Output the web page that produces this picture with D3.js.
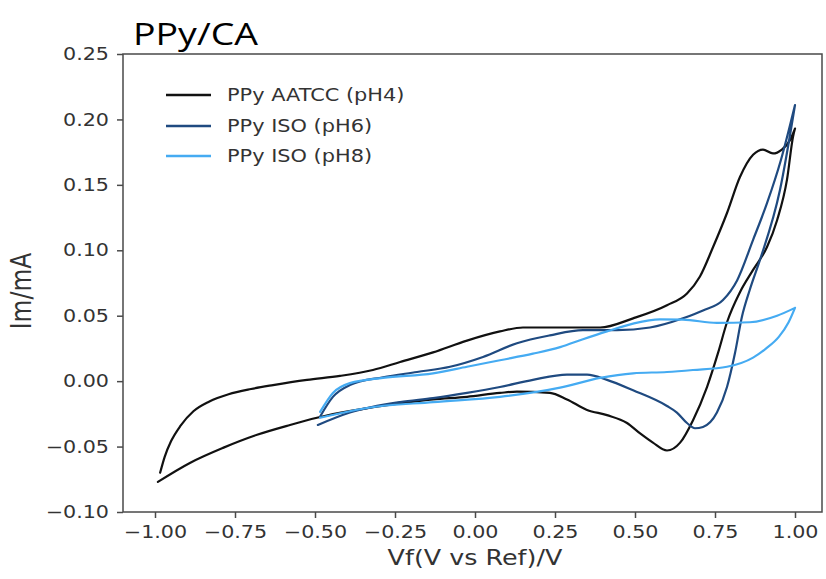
<!DOCTYPE html>
<html>
<head>
<meta charset="utf-8">
<script src="https://cdn.jsdelivr.net/npm/d3@7"></script>
<style>
  body { margin: 0; background: #fff; }
  svg { display: block; }
</style>
</head>
<body>
<svg id="chart" width="826" height="579"></svg>
<script>
// Axis ticks
const xTicks = [-1.00, -0.75, -0.50, -0.25, 0.00, 0.25, 0.50, 0.75, 1.00];
const yTicks = [-0.10, -0.05, 0.00, 0.05, 0.10, 0.15, 0.20, 0.25];

const chartTitle = "PPy/CA";
const xLabel = "Vf(V vs Ref)/V";
const yLabel = "Im/mA";
const seriesNames = ["PPy AATCC (pH4)", "PPy ISO (pH6)", "PPy ISO (pH8)"];

// Cyclic voltammograms, [potential V, current mA]; forward (anodic) then reverse sweep
const ph4Forward = [
  [-0.984, -0.070], [-0.970, -0.058], [-0.950, -0.046], [-0.920, -0.034], [-0.880, -0.023],
  [-0.830, -0.0155], [-0.770, -0.010], [-0.700, -0.006], [-0.631, -0.003], [-0.525, 0.001],
  [-0.422, 0.004], [-0.319, 0.0085], [-0.234, 0.0146], [-0.131, 0.022], [-0.025, 0.031],
  [0.078, 0.038], [0.150, 0.041], [0.234, 0.041], [0.391, 0.041], [0.494, 0.048],
  [0.600, 0.058], [0.6625, 0.067], [0.703, 0.080], [0.744, 0.1025], [0.7875, 0.1285],
  [0.828, 0.156], [0.869, 0.173], [0.900, 0.177], [0.931, 0.174], [0.959, 0.177],
  [0.984, 0.184], [1.000, 0.193]
];
const ph4Reverse = [
  [1.000, 0.193], [0.994, 0.187], [0.975, 0.154], [0.944, 0.123], [0.9125, 0.1025],
  [0.869, 0.085], [0.828, 0.068], [0.7875, 0.045], [0.760, 0.022], [0.725, -0.0045],
  [0.681, -0.030], [0.641, -0.047], [0.600, -0.053], [0.556, -0.047], [0.516, -0.040],
  [0.475, -0.032], [0.4125, -0.026], [0.350, -0.022], [0.2875, -0.014], [0.234, -0.009],
  [0.131, -0.008], [0.078, -0.009], [-0.025, -0.012], [-0.131, -0.014], [-0.234, -0.017],
  [-0.494, -0.028], [-0.578, -0.0335], [-0.681, -0.041], [-0.7875, -0.051], [-0.891, -0.0625],
  [-0.991, -0.077]
];
const ph6Forward = [
  [-0.484, -0.027], [-0.444, -0.012], [-0.391, -0.003], [-0.2875, 0.003], [-0.181, 0.007],
  [-0.078, 0.011], [0.025, 0.0185], [0.131, 0.029], [0.234, 0.035], [0.3375, 0.039],
  [0.444, 0.039], [0.547, 0.041], [0.650, 0.048], [0.7125, 0.054], [0.775, 0.062],
  [0.819, 0.077], [0.869, 0.108], [0.9125, 0.136], [0.956, 0.169], [1.000, 0.211]
];
const ph6Reverse = [
  [1.000, 0.211], [0.953, 0.146], [0.891, 0.093], [0.859, 0.070], [0.834, 0.049],
  [0.8125, 0.0215], [0.7875, -0.0045], [0.756, -0.024], [0.7125, -0.035], [0.6875, -0.036],
  [0.6625, -0.032], [0.631, -0.024], [0.600, -0.019], [0.494, -0.007], [0.4125, 0.001],
  [0.350, 0.005], [0.2875, 0.005], [0.181, 0.001], [0.078, -0.0045], [-0.025, -0.009],
  [-0.131, -0.013], [-0.234, -0.016], [-0.391, -0.024], [-0.491, -0.0335]
];
const ph8Forward = [
  [-0.484, -0.0235], [-0.444, -0.009], [-0.391, -0.0015], [-0.2875, 0.0025], [-0.131, 0.006],
  [-0.025, 0.011], [0.078, 0.016], [0.181, 0.021], [0.266, 0.026], [0.3375, 0.032],
  [0.4125, 0.038], [0.494, 0.0440], [0.578, 0.0472], [0.650, 0.047], [0.756, 0.0445],
  [0.859, 0.045], [0.944, 0.050], [1.000, 0.056]
];
const ph8Reverse = [
  [1.000, 0.056], [0.980, 0.045], [0.950, 0.034], [0.910, 0.025], [0.869, 0.018],
  [0.7875, 0.011], [0.681, 0.0085], [0.600, 0.007], [0.494, 0.006], [0.391, 0.0025],
  [0.266, -0.005], [0.078, -0.012], [-0.131, -0.016], [-0.3375, -0.0205], [-0.484, -0.028]
];

const seriesData = [
  [ph4Forward, ph4Reverse],
  [ph6Forward, ph6Reverse],
  [ph8Forward, ph8Reverse]
];
const seriesColors = ["#111111", "#1f4a80", "#45abf2"];

// Layout
const frame = { left: 123, right: 822, top: 54, bottom: 512 };
const textStretch = 1.18;
const tickFont = "DejaVu Sans, sans-serif";

const svg = d3.select("#chart");

const x = d3.scaleLinear().domain([-1.1, 1.084375]).range([frame.left, frame.right]);
const y = d3.scaleLinear().domain([-0.10, 0.25]).range([frame.bottom, frame.top]);

// Widen glyphs horizontally to the chart's proportions
function widen(sel, k) {
  sel.each(function () {
    const w = this.getComputedTextLength();
    this.setAttribute("textLength", w * k);
    this.setAttribute("lengthAdjust", "spacingAndGlyphs");
  });
}

// Curves: each sweep is monotone in potential, so a monotone spline avoids overshoot
const line = d3.line()
  .x(d => x(d[0]))
  .y(d => y(d[1]))
  .curve(d3.curveMonotoneX);

const curves = svg.append("g").attr("class", "curves");
seriesData.forEach((sweeps, si) => {
  const [fwd, rev] = sweeps;
  const path = line(fwd) + line(rev.slice().reverse());
  curves.append("path")
    .attr("d", path)
    .attr("fill", "none")
    .attr("stroke", seriesColors[si])
    .attr("stroke-width", 2.2)
    .attr("stroke-linejoin", "round")
    .attr("stroke-linecap", "round");
});

// Frame
svg.append("rect")
  .attr("x", frame.left)
  .attr("y", frame.top)
  .attr("width", frame.right - frame.left)
  .attr("height", frame.bottom - frame.top)
  .attr("fill", "none")
  .attr("stroke", "#4a4a4a")
  .attr("stroke-width", 1.5);

// Axes
const fmt = d3.format(".2f");
const xAxis = svg.append("g")
  .attr("transform", `translate(0,${frame.bottom})`)
  .call(d3.axisBottom(x).tickValues(xTicks).tickFormat(fmt).tickSize(6).tickPadding(8));
const yAxis = svg.append("g")
  .attr("transform", `translate(${frame.left},0)`)
  .call(d3.axisLeft(y).tickValues(yTicks).tickFormat(fmt).tickSize(6).tickPadding(8));

[xAxis, yAxis].forEach(ax => {
  ax.select(".domain").remove();
  ax.selectAll(".tick line").attr("stroke", "#4a4a4a").attr("stroke-width", 1.5);
  ax.selectAll(".tick text")
    .attr("fill", "#333")
    .style("font-family", tickFont)
    .style("font-size", "17.5px");
});
xAxis.selectAll(".tick text").attr("y", 14).attr("dy", "0.71em");
widen(xAxis.selectAll(".tick text"), textStretch);
widen(yAxis.selectAll(".tick text"), textStretch);

// Axis labels
const xl = svg.append("text")
  .attr("x", (x(-1) + x(1)) / 2)
  .attr("y", 565)
  .attr("text-anchor", "middle")
  .attr("fill", "#333")
  .style("font-family", tickFont)
  .style("font-size", "21.5px")
  .text(xLabel);
widen(xl, textStretch);

svg.append("text")
  .attr("transform", `translate(31,291) scale(${textStretch},1) rotate(-90)`)
  .attr("text-anchor", "middle")
  .attr("fill", "#333")
  .style("font-family", tickFont)
  .style("font-size", "23.5px")
  .text(yLabel);

// Title
const title = svg.append("text")
  .attr("x", 133)
  .attr("y", 45)
  .attr("fill", "#000")
  .style("font-family", "Open Sans, sans-serif")
  .style("font-size", "31px")
  .text(chartTitle);
title.attr("textLength", 125).attr("lengthAdjust", "spacingAndGlyphs");

// Legend
const legend = svg.append("g").attr("class", "legend");
const legendRowY = [95, 126, 156];
seriesNames.forEach((name, i) => {
  legend.append("line")
    .attr("x1", 166).attr("x2", 211)
    .attr("y1", legendRowY[i]).attr("y2", legendRowY[i])
    .attr("stroke", seriesColors[i])
    .attr("stroke-width", 2.5);
  const t = legend.append("text")
    .attr("x", 227)
    .attr("y", legendRowY[i])
    .attr("dy", "0.35em")
    .attr("fill", "#333")
    .style("font-family", tickFont)
    .style("font-size", "17px")
    .text(name);
  widen(t, textStretch * 1.04);
});
</script>
</body>
</html>
